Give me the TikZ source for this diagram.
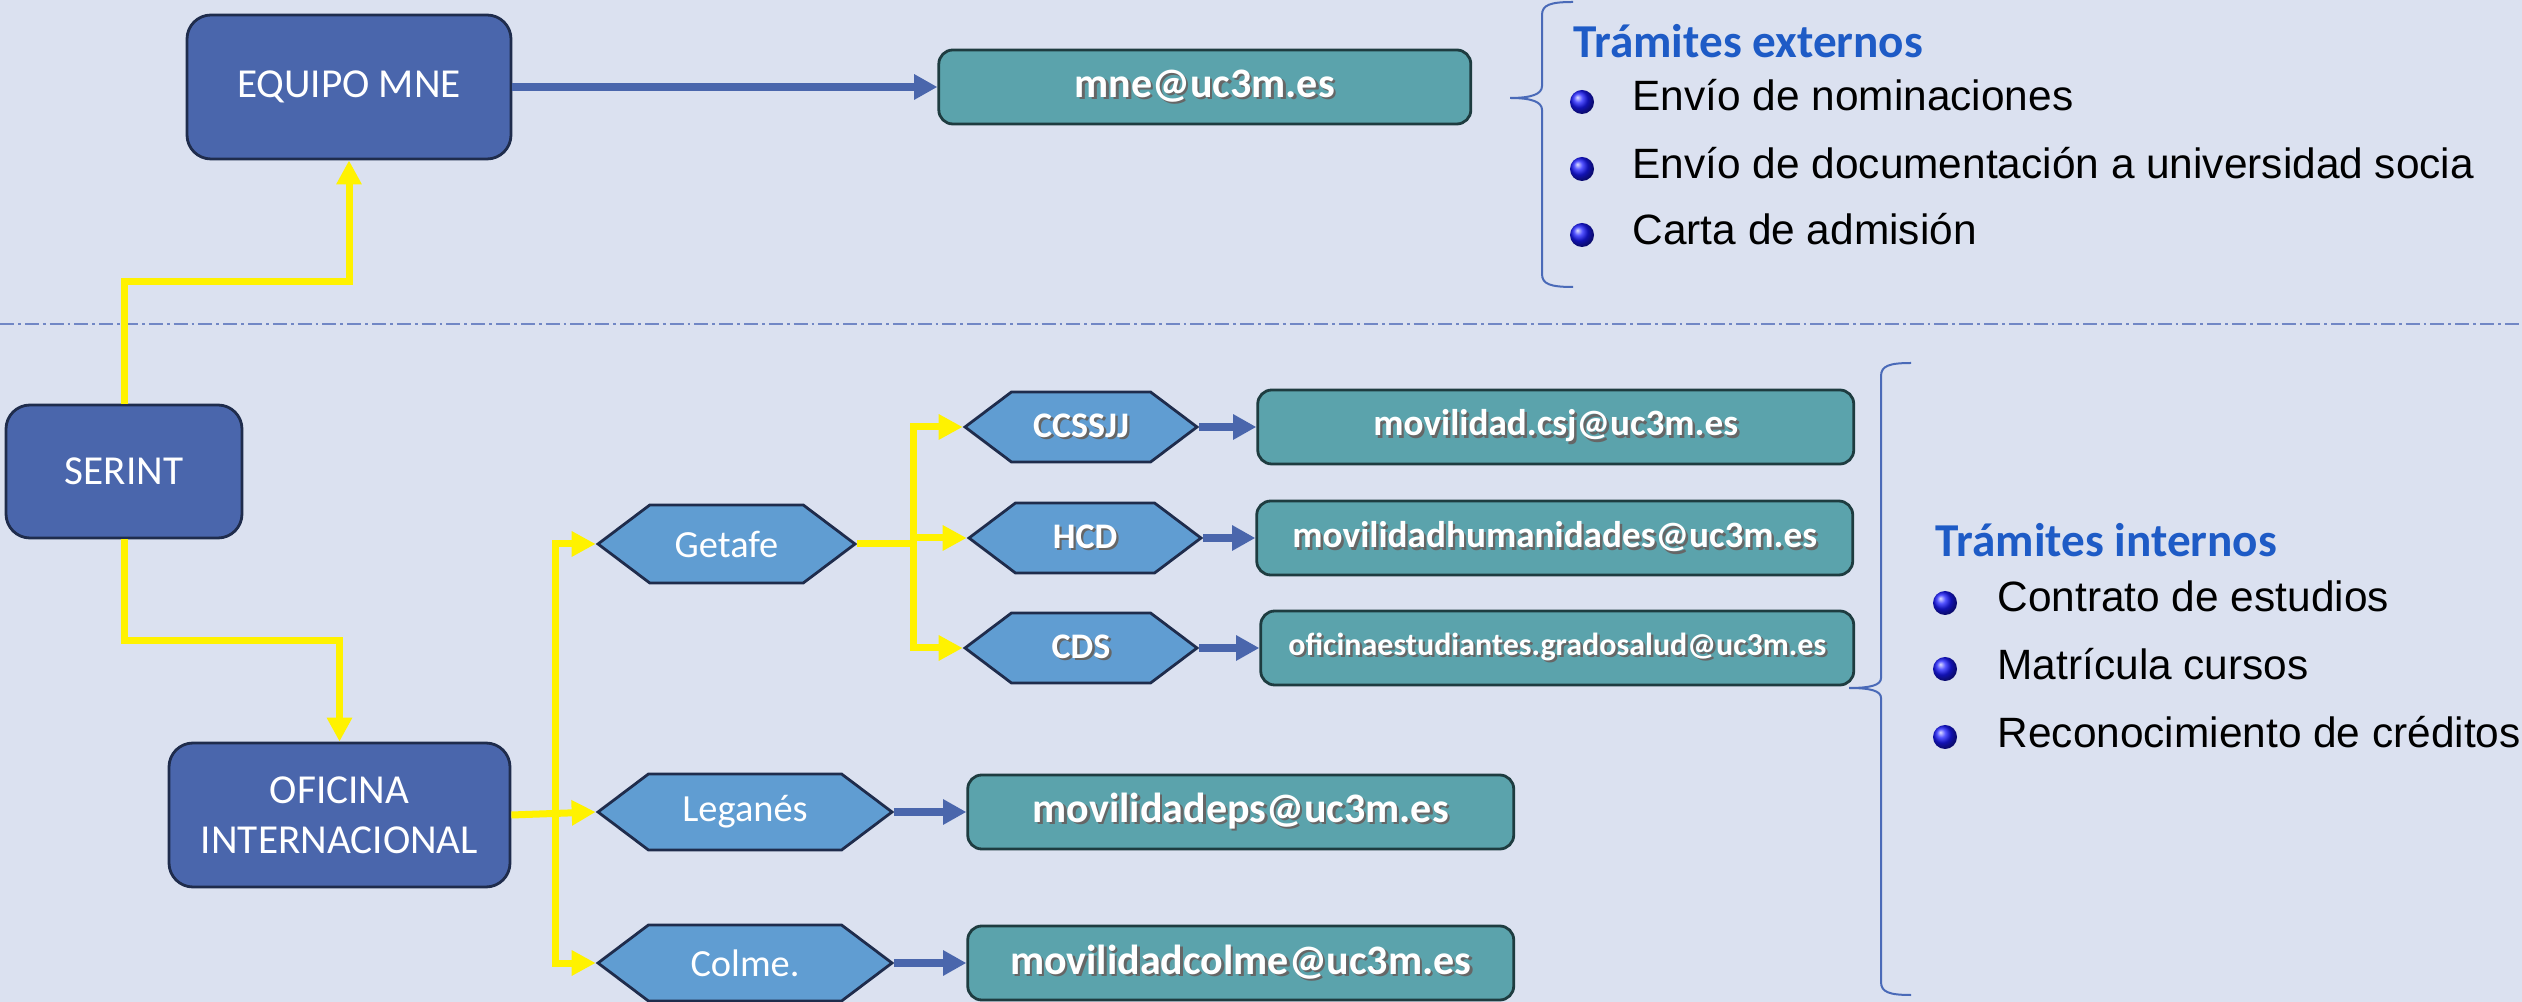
\documentclass[tikz,border=0pt]{standalone}
\usepackage{fontspec}
\setmainfont{Carlito}
\newfontfamily\arialfont{Liberation Sans}
\usepackage{tikz}
\usetikzlibrary{shapes, arrows.meta, positioning, calc}
\usepackage{xcolor}

\definecolor{fondo}{HTML}{DBE1F0}
\definecolor{azulosc}{HTML}{4A66AC}
\definecolor{bordeosc}{HTML}{1F2C4C}
\definecolor{azulhex}{HTML}{609DD2}
\definecolor{verdemail}{HTML}{5BA3AC}
\definecolor{bordemail}{HTML}{1E3C40}
\definecolor{titulo}{HTML}{1E5BC6}
\definecolor{llave}{HTML}{4A6AB8}
\definecolor{raya}{HTML}{7187C5}

\newcommand{\sombra}[1]{\makebox[0pt][l]{\hspace{0.6pt}\raisebox{-0.6pt}{\color{black!60}#1}}#1}

\begin{document}
\begin{tikzpicture}[x=0.25pt, y=-0.25pt, thick]
        % Define block styles
        \tikzstyle{bluebox} = [rectangle, draw=bordeosc, fill=azulosc, line width=0.7pt, rounded corners=6pt, text=white, align=center, font=\fontsize{10.3}{12.5}\selectfont, minimum height=36pt]
        \tikzstyle{hexnode} = [signal, signal to=west and east, signal pointer angle=74, draw=bordeosc, fill=azulhex, line width=0.7pt, text=white, inner sep=0pt, font=\fontsize{9.6}{11}\selectfont]
        \tikzstyle{smallhex} = [hexnode, minimum width=58pt, minimum height=17.5pt, font=\bfseries\fontsize{9}{11}\selectfont]
        \tikzstyle{mailbox} = [rectangle, draw=bordemail, fill=verdemail, line width=0.7pt, rounded corners=3.5pt, text=white, font=\bfseries\fontsize{9.3}{11}\selectfont, minimum height=18.5pt]
        \tikzstyle{bigmail} = [mailbox, font=\bfseries\fontsize{10.5}{12}\selectfont]
        \tikzstyle{yline} = [draw=yellow, line width=1.75pt]
        \tikzstyle{yarrow} = [yline, -{Triangle[length=6pt, width=6pt]}]
        \tikzstyle{barrow} = [draw=azulosc, line width=2pt, -{Triangle[length=5.8pt, width=6pt]}]
        \tikzstyle{titletext} = [anchor=base west, text=titulo, inner sep=0pt, font=\bfseries\fontsize{11.8}{14}\selectfont]
        \tikzstyle{itemtext} = [anchor=base west, inner sep=0pt, font=\arialfont\fontsize{10.6}{12.7}\selectfont]
        \tikzstyle{bola} = [circle, ball color=blue!90!white, minimum size=6pt, inner sep=0pt]
        \tikzstyle{llaveline} = [draw=llave, line width=0.5pt]

        \useasboundingbox (0,0) rectangle (2522,1002);
        \fill[fondo] (0,0) rectangle (2522,1002);
        \draw[raya, line width=0.5pt, dash pattern=on 3.5pt off 1pt on 0.7pt off 1pt] (0,324) -- (2522,324);

        % Define nodes
        \node [bluebox, minimum width=81pt] (equipo) at (349,87) {EQUIPO MNE};
        \node [bluebox, minimum width=59pt, minimum height=33.25pt] (serint) at (124,471.5) {SERINT};
        \node [bluebox, minimum width=85.25pt] (oficina) at (339.5,815) {OFICINA\\INTERNACIONAL};

        \node [hexnode, minimum width=64.25pt, minimum height=19.5pt] (getafe) at (726.5,544) {Getafe};
        \node [hexnode, minimum width=73.5pt, minimum height=19pt] (leganes) at (745,812) {Leganés};
        \node [hexnode, minimum width=73.5pt, minimum height=19pt] (colme) at (745,963) {Colme.};

        \node [smallhex] (ccssjj) at (1081,427) {\sombra{CCSSJJ}};
        \node [smallhex] (hcd) at (1085,538) {\sombra{HCD}};
        \node [smallhex] (cds) at (1081,648) {\sombra{CDS}};

        \node [bigmail, minimum width=133pt, right=106.25pt of equipo] (mne) {\sombra{mne@uc3m.es}};
        \node [mailbox, minimum width=149pt, right=14.25pt of ccssjj] (csj) {\sombra{movilidad.csj@uc3m.es}};
        \node [mailbox, minimum width=149pt, right=13pt of hcd] (humanidades) {\sombra{movilidadhumanidades@uc3m.es}};
        \node [mailbox, minimum width=148.25pt, right=15pt of cds, font=\bfseries\fontsize{8}{10}\selectfont] (gradosalud) {\sombra{oficinaestudiantes.gradosalud@uc3m.es}};
        \node [bigmail, minimum width=136.5pt, right=18pt of leganes] (eps) {\sombra{movilidadeps@uc3m.es}};
        \node [bigmail, minimum width=136.5pt, right=18pt of colme] (mcolme) {\sombra{movilidadcolme@uc3m.es}};

        \coordinate (ofisplit) at ($(oficina.east)+(44,0)$);
        \coordinate (getsplit) at ($(getafe.east)+(56,0)$);

        % Connect nodes with paths
        \path [yarrow] (serint.north) |- ($(serint.north)!.5!(equipo.south)$) -| (equipo.south);
        \path [yarrow] (serint.south) |- ($(serint.south)!.5!(oficina.north)$) -| (oficina.north);
        \path [yarrow] (oficina.east) -- (leganes.west);
        \path [yarrow] (ofisplit) |- (getafe.west);
        \path [yarrow] (ofisplit) |- (colme.west);
        \path [yline] (getafe.east) -- (getsplit);
        \path [yarrow] (getsplit) |- (ccssjj.west);
        \path [yarrow] (getsplit) |- (hcd.west);
        \path [yarrow] (getsplit) |- (cds.west);

        \path [barrow] (equipo.east) -- (mne.west);
        \path [barrow] (ccssjj.east) -- (csj.west);
        \path [barrow] (hcd.east) -- (humanidades.west);
        \path [barrow] (cds.east) -- (gradosalud.west);
        \path [barrow] (leganes.east) -- (eps.west);
        \path [barrow] (colme.east) -- (mcolme.west);

        % Trámites externos
        \path [llaveline] (1573,2) .. controls (1550,2) and (1542,5) .. (1542,15) -- (1542,86)
              .. controls (1542,94) and (1532,98) .. (1510,98)
              .. controls (1532,98) and (1542,102) .. (1542,110) -- (1542,274)
              .. controls (1542,284) and (1550,287) .. (1573,287);
        \node [titletext] (titext) at (1572,58) {Trámites externos};
        \node [bola] (bext1) at (1582,102) {};
        \node [bola] (bext2) at (1582,169) {};
        \node [bola] (bext3) at (1582,235) {};
        \node [itemtext] (ext1) at (1631,111) {Envío de nominaciones};
        \node [itemtext] (ext2) at (1631,179) {Envío de documentación a universidad socia};
        \node [itemtext] (ext3) at (1631,245) {Carta de admisión};

        % Trámites internos
        \path [llaveline] (1911,363) .. controls (1889,363) and (1881,366) .. (1881,376) -- (1881,678)
              .. controls (1881,685) and (1871,688) .. (1849,688)
              .. controls (1871,688) and (1881,691) .. (1881,698) -- (1881,982)
              .. controls (1881,992) and (1889,995) .. (1911,995);
        \node [titletext] (tiint) at (1934,557) {Trámites internos};
        \node [bola] (bint1) at (1945,603) {};
        \node [bola] (bint2) at (1945,669) {};
        \node [bola] (bint3) at (1945,737) {};
        \node [itemtext] (int1) at (1996,612) {Contrato de estudios};
        \node [itemtext] (int2) at (1996,680) {Matrícula cursos};
        \node [itemtext] (int3) at (1996,747) {Reconocimiento de créditos};

    \end{tikzpicture}
\end{document}
